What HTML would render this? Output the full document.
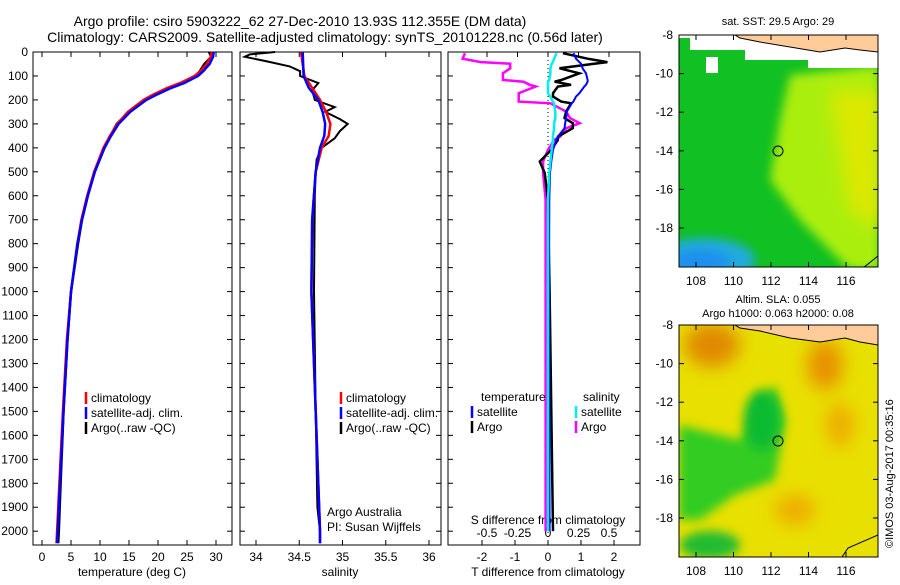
<!DOCTYPE html>
<html><head><meta charset="utf-8"><style>
body{margin:0;background:#fff;}
svg text{font-family:"Liberation Sans",sans-serif;font-size:12px;fill:#000;}
</style></head><body>
<svg id="c" width="900" height="580" viewBox="0 0 900 580">
<defs>
<filter id="bl" x="-50%" y="-50%" width="200%" height="200%"><feGaussianBlur stdDeviation="9"/></filter>
<filter id="bl2" x="-50%" y="-50%" width="200%" height="200%"><feGaussianBlur stdDeviation="5"/></filter>
<clipPath id="m1"><rect x="679" y="35" width="199" height="232"/></clipPath>
<clipPath id="m2"><rect x="679" y="325" width="199" height="232"/></clipPath>
</defs>
<text x="300" y="26" text-anchor="middle" style="font-size:14px">Argo profile: csiro 5903222_62 27-Dec-2010 13.93S 112.355E (DM data)</text>
<text x="325" y="42" text-anchor="middle" style="font-size:14px">Climatology: CARS2009. Satellite-adjusted climatology: synTS_20101228.nc (0.56d later)</text>
<g id="plots"></g>

<!-- SST map -->
<g clip-path="url(#m1)">
<rect x="679" y="35" width="199" height="232" fill="#11c022"/>
<path d="M790,75 L880,65 L880,270 L850,270 L800,220 L770,180 L780,120Z" fill="#aaee11" filter="url(#bl2)"/>
<path d="M830,90 L880,90 L880,230 L850,210 L840,150Z" fill="#dde800" filter="url(#bl)"/>
<ellipse cx="705" cy="260" rx="50" ry="22" fill="#22aadd" filter="url(#bl2)"/>
<ellipse cx="700" cy="262" rx="30" ry="12" fill="#1a90ee" filter="url(#bl2)"/>
<path d="M679,35 L878,35 L878,68 L808,68 L808,60 L745,60 L745,50 L690,50 L690,38 L679,38Z" fill="#fff"/>
<rect x="706" y="57" width="12" height="16" fill="#fff"/>
<path d="M735,35 L878,35 L878,52 L860,50 L845,48 L820,52 L790,47 L760,42 L740,38Z" fill="#ffcc99" stroke="#000" stroke-width="1"/>
<path d="M840,303 L848,280 L878,256" fill="none" stroke="#000"/>
<circle cx="778" cy="151" r="5" fill="none" stroke="#000"/>
</g>
<rect x="679" y="35" width="199" height="232" fill="none" stroke="#000"/>
<text x="778" y="25" text-anchor="middle" style="font-size:11px">sat. SST: 29.5 Argo: 29</text>

<!-- SLA map -->
<g clip-path="url(#m2)">
<rect x="679" y="325" width="199" height="232" fill="#e8e000"/>
<ellipse cx="712" cy="345" rx="28" ry="22" fill="#e08800" filter="url(#bl)"/>
<ellipse cx="825" cy="365" rx="18" ry="25" fill="#e89000" filter="url(#bl)"/>
<ellipse cx="840" cy="425" rx="14" ry="22" fill="#eeaa00" filter="url(#bl)"/>
<ellipse cx="795" cy="510" rx="20" ry="15" fill="#eeaa00" filter="url(#bl)"/>
<path d="M679,425 L740,440 L760,400 L775,385 L785,420 L775,480 L735,495 L700,520 L679,520Z" fill="#33cc22" filter="url(#bl2)"/>
<ellipse cx="762" cy="420" rx="18" ry="30" fill="#11bb33" filter="url(#bl2)"/>
<ellipse cx="710" cy="545" rx="30" ry="14" fill="#22bb33" filter="url(#bl2)"/>
<path d="M735,325 L878,325 L878,345 L860,342 L845,338 L820,342 L790,338 L760,331 L740,328Z" fill="#ffcc99" stroke="#000" stroke-width="1"/>
<path d="M840,560 L848,548 L878,535" fill="none" stroke="#000"/>
<circle cx="778" cy="441" r="5" fill="none" stroke="#000"/>
</g>
<rect x="679" y="325" width="199" height="232" fill="none" stroke="#000"/>
<text x="778" y="303" text-anchor="middle" style="font-size:11px">Altim. SLA: 0.055</text>
<text x="778" y="317" text-anchor="middle" style="font-size:11px">Argo h1000: 0.063 h2000: 0.08</text>
<text transform="translate(893,548) rotate(-90)" style="font-size:11px">©IMOS 03-Aug-2017 00:35:16</text>
<g id="maps"></g>
</svg>
<script>
// ---- data ----
const tDepth=[0,20,50,80,100,130,150,180,200,250,300,350,400,500,600,700,800,1000,1200,1500,1800,2000,2050];
const tClim=[29.3,29.1,28.4,27.3,26.3,23.8,21.6,19.0,17.5,14.8,13.0,11.7,10.6,9.0,7.8,6.8,6.1,5.0,4.3,3.6,3.0,2.6,2.5];
const tSat=[29.6,29.5,28.9,27.8,26.9,24.5,22.3,19.6,18.0,15.2,13.2,11.9,10.8,9.1,7.9,6.9,6.1,5.0,4.4,3.7,3.1,2.7,2.6];
const tArgo=[28.8,29.2,28.0,27.2,26.6,24.4,22.0,19.3,17.6,15.0,12.9,11.8,10.7,9.1,7.9,6.9,6.2,5.0,4.4,3.7,3.2,2.9,2.8];
const sDepth=[0,100,150,200,250,300,350,400,500,700,1000,1500,2000,2050];
const sClim=[34.52,34.56,34.65,34.74,34.81,34.86,34.84,34.76,34.69,34.65,34.64,34.69,34.74,34.74];
const sSat=[34.54,34.55,34.61,34.72,34.77,34.80,34.79,34.74,34.69,34.65,34.64,34.69,34.74,34.74];
const aDepth=[0,10,20,40,60,80,100,130,160,200,230,250,280,300,330,360,400,450,500,600,1000,1500,1900,2000];
const sArgo=[34.22,33.93,33.87,34.14,34.39,34.51,34.51,34.72,34.65,34.68,34.91,34.80,34.97,35.06,34.97,34.91,34.76,34.70,34.69,34.68,34.67,34.69,34.71,34.74];
const dDepth=[5,28,42,49,68,89,117,124,137,144,172,186,207,214,249,276,297,318,353,367,408,457,505,617,644,1000,1500,2000];
const dTArgo=[0.45,1.2,1.8,1.4,0.35,0.95,0.4,0.2,0.7,0.3,0.15,0.15,0.4,0.7,0.55,0.5,0.75,0.75,0.3,0.3,0.1,-0.25,-0.1,0.0,0.0,0.05,0.1,0.15];
const dTSat=[0.77,0.85,0.95,1.0,1.05,1.15,1.2,1.2,1.15,1.1,0.95,0.85,0.77,0.72,0.57,0.55,0.52,0.5,0.3,0.25,0.15,0.1,0.06,0.04,0.04,0.03,0.04,0.05];
const dSArgo=[-0.68,-0.7,-0.55,-0.31,-0.31,-0.37,-0.37,-0.2,-0.15,-0.1,-0.24,-0.24,-0.24,0.02,0.15,0.18,0.26,0.15,0.1,0.05,0.0,-0.04,-0.04,-0.02,-0.02,-0.02,-0.02,-0.02];
const dSSat=[0.07,0.05,0.04,0.03,0.02,0.02,0.01,0.0,0.0,0.0,0.0,0.02,0.04,0.05,0.06,0.06,0.05,0.05,0.04,0.04,0.03,0.02,0.01,0.0,0.0,0.0,0.0,0.0];
const depthTicks=[0,100,200,300,400,500,600,700,800,900,1000,1100,1200,1300,1400,1500,1600,1700,1800,1900,2000];
const tTicks=[0,5,10,15,20,25,30];
const sTicks=[34,34.5,35,35.5,36];
const dtTicks=[-2,-1,0,1,2];
const dsTicks=[-0.5,-0.25,0,0.25,0.5];
const lonTicks=[108,110,112,114,116];
const latTicks=[-8,-10,-12,-14,-16,-18];
// ---- scales ----
const Y0=52,Y1=545;
const yD=d=>Y0+d*0.2396;
const xT=t=>42+t*5.8;
const xS=s=>256+(s-34)*86.5;
const xDT=t=>548+t*33;
const xDS=s=>548+s*122;
const NS='http://www.w3.org/2000/svg';
const plots=document.getElementById('plots');
function mk(tag,at,parent){const e=document.createElementNS(NS,tag);for(const k in at)e.setAttribute(k,at[k]);(parent||plots).appendChild(e);return e;}
function txt(x,y,s,anchor,parent){const e=mk('text',{x:x,y:y,'text-anchor':anchor||'middle'},parent);e.textContent=s;return e;}
function line(depths,vals,fx,color,name,w){
  const pts=depths.map((d,i)=>fx(vals[i]).toFixed(1)+','+yD(d).toFixed(1)).join(' ');
  const e=mk('polyline',{points:pts,fill:'none',stroke:color,'stroke-width':w||2.5});
  
  
}
const panels=[[33,232],[240,441],[448,640]];
panels.forEach((p,i)=>{
  const r=mk('rect',{x:p[0],y:Y0,width:p[1]-p[0],height:Y1-Y0,fill:'none',stroke:'#000'});
  
  
  depthTicks.forEach(d=>{
    mk('line',{x1:p[0],x2:p[0]+5,y1:yD(d),y2:yD(d),stroke:'#000'});
    mk('line',{x1:p[1]-5,x2:p[1],y1:yD(d),y2:yD(d),stroke:'#000'});
  });
});
depthTicks.forEach(d=>{
  const t=txt(28,yD(d)+4,String(d),'end');
  
  
});
function xticks(ticks,fx,p,name,top){
  ticks.forEach(v=>{
    mk('line',{x1:fx(v),x2:fx(v),y1:Y1,y2:Y1-5,stroke:'#000'});
    if(top) mk('line',{x1:fx(v),x2:fx(v),y1:Y0,y2:Y0+5,stroke:'#000'});
    const t=txt(fx(v),Y1+16,String(v));
    
    
  });
}
xticks(tTicks,xT,panels[0],'temperature-tick-label',true);
xticks(sTicks,xS,panels[1],'salinity-tick-label',true);
xticks(dtTicks,xDT,panels[2],'t-diff-tick-label',false);
dsTicks.forEach(v=>{
  mk('line',{x1:xDS(v),x2:xDS(v),y1:Y0,y2:Y0+5,stroke:'#000'});
  const t=txt(xDS(v),537,String(v));
  
  
});
[['temperature (deg C)',132],['salinity',340],['T difference from climatology',548]].forEach(a=>{
  const t=txt(a[1],576,a[0]);
  
  
});
const st=txt(548,524,'S difference from climatology');


const z=mk('line',{x1:548,x2:548,y1:Y0,y2:Y1,stroke:'#000','stroke-dasharray':'1,3'});


line(tDepth,tArgo,xT,'#000','temp-argo-line');
line(tDepth,tClim,xT,'#f00','temp-climatology-line');
line(tDepth,tSat,xT,'#00f','temp-satellite-line');
line(aDepth,sArgo,xS,'#000','sal-argo-line',2);
line(sDepth,sClim,xS,'#f00','sal-climatology-line');
line(sDepth,sSat,xS,'#00f','sal-satellite-line');
line(dDepth,dSArgo,xDS,'#f0f','sdiff-argo-line');
line(dDepth,dTArgo,xDT,'#000','tdiff-argo-line');
line(dDepth,dTSat,xDT,'#00f','tdiff-satellite-line',2);
line(dDepth,dSSat,xDS,'#0ee','sdiff-satellite-line');
function leg(x,y,color,label,name){
  const g=mk('g',{});
  
  
  mk('line',{x1:x,x2:x,y1:y-10,y2:y+2,stroke:color,'stroke-width':2.5},g);
  txt(x+5,y,label,'start',g);
}
[[0,'climatology','#f00'],[1,'satellite-adj. clim.','#00f'],[2,'Argo(..raw -QC)','#000']].forEach(a=>{
  leg(86,402+a[0]*15,a[2],a[1],'temp-legend-entry');
  leg(341,402+a[0]*15,a[2],a[1],'sal-legend-entry');
});
txt(481,401,'temperature','start');
txt(583,401,'salinity','start');
leg(472,416,'#00f','satellite','t-legend-satellite');
leg(472,431,'#000','Argo','t-legend-argo');
leg(576,416,'#0ee','satellite','s-legend-satellite');
leg(576,431,'#f0f','Argo','s-legend-argo');
txt(327,516,'Argo Australia','start');
txt(327,531,'PI: Susan Wijffels','start');
const maps=document.getElementById('maps');
[[35],[325]].forEach((m,k)=>{
  const top=m[0];
  latTicks.forEach(l=>{
    const y=top+(-8-l)*19.3;
    mk('line',{x1:679,x2:684,y1:y,y2:y,stroke:'#000'},maps);
    mk('line',{x1:873,x2:878,y1:y,y2:y,stroke:'#000'},maps);
    const t=txt(673,y+4,String(l),'end',maps);
    
    
  });
  lonTicks.forEach(l=>{
    const x=696+(l-108)*18.75;
    mk('line',{x1:x,x2:x,y1:top,y2:top+5,stroke:'#000'},maps);
    mk('line',{x1:x,x2:x,y1:top+227,y2:top+232,stroke:'#000'},maps);
    const t=txt(x,top+250,String(l),'middle',maps);
    
    
  });
});
</script>
</body></html>
